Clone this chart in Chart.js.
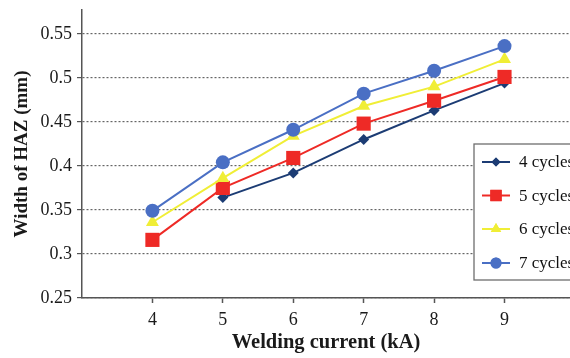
<!DOCTYPE html>
<html>
<head>
<meta charset="utf-8">
<script src="https://cdn.jsdelivr.net/npm/chart.js@4/dist/chart.umd.min.js"></script>
<style>
  html, body { margin: 0; padding: 0; background: #fff; overflow: hidden; }
  #wrap { width: 580px; height: 358px; }
</style>
</head>
<body>
<div id="wrap"><canvas id="hazChart" width="580" height="358"></canvas></div>
<script>
// Width of HAZ vs welding current, one series per number of cycles
const currents   = [4, 5, 6, 7, 8, 9];
const cycles4    = [null, 0.364, 0.392, 0.430, 0.463, 0.494];
const cycles5    = [0.316, 0.375, 0.409, 0.448, 0.474, 0.501];
const cycles6    = [0.336, 0.386, 0.434, 0.468, 0.490, 0.521];
const cycles7    = [0.349, 0.404, 0.441, 0.482, 0.508, 0.536];
const seriesNames = ['4 cycles', '5 cycles', '6 cycles', '7 cycles'];
const yTicks     = [0.25, 0.3, 0.35, 0.4, 0.45, 0.5, 0.55];

const SERIF = '"Liberation Serif", "Times New Roman", serif';

function pts(vals) {
  return currents.map((x, i) => ({ x, y: vals[i] }));
}

function series(label, vals, color, style, radius, order) {
  return {
    label,
    data: pts(vals),
    borderColor: color,
    backgroundColor: color,
    borderWidth: 2,
    pointStyle: style,
    pointRadius: radius,
    pointHoverRadius: radius,
    pointBorderWidth: 0,
    tension: 0,
    order
  };
}

// Legend box drawn inside the plot, at the right edge
const boxLegend = {
  id: 'boxLegend',
  afterDraw(chart) {
    const ctx = chart.ctx;
    const left = 474, top = 144, bottom = 280, right = 620;
    ctx.save();
    ctx.fillStyle = '#fff';
    ctx.fillRect(left, top, right - left, bottom - top);
    ctx.strokeStyle = '#6e6e6e';
    ctx.lineWidth = 1.3;
    ctx.strokeRect(left, top, right - left, bottom - top);

    const rows = [162, 195.5, 229, 263];
    const sizes = [4.5, 8, 6, 5.5];
    chart.data.datasets.forEach((ds, i) => {
      const y = rows[i];
      ctx.strokeStyle = ds.borderColor;
      ctx.lineWidth = 2;
      ctx.beginPath();
      ctx.moveTo(482, y);
      ctx.lineTo(510, y);
      ctx.stroke();
      ctx.fillStyle = ds.backgroundColor;
      Chart.helpers.drawPoint(ctx, { pointStyle: ds.pointStyle, radius: sizes[i], borderWidth: 0 }, 496, y);
      ctx.fill();
      ctx.fillStyle = '#111';
      ctx.font = '17px ' + SERIF;
      ctx.textBaseline = 'middle';
      ctx.fillText(ds.label, 519, y + 1);
    });
    ctx.restore();
  }
};

new Chart(document.getElementById('hazChart'), {
  type: 'line',
  data: {
    datasets: [
      series(seriesNames[0], cycles4, '#1c3c74', 'rectRot', 5.5, 3),
      series(seriesNames[1], cycles5, '#ee2a26', 'rect', 10, 2),
      series(seriesNames[2], cycles6, '#f0ee36', 'triangle', 7.5, 1),
      series(seriesNames[3], cycles7, '#4a6fc4', 'circle', 7, 0)
    ]
  },
  options: {
    responsive: false,
    animation: false,
    layout: { padding: { top: 8, right: 4, left: 0, bottom: 0 } },
    plugins: {
      legend: { display: false },
      tooltip: { enabled: false }
    },
    scales: {
      x: {
        type: 'linear',
        min: 3,
        max: 9.93,
        afterBuildTicks: s => { s.ticks = currents.map(v => ({ value: v })); },
        afterFit: s => { s.height = 60; s.paddingLeft = 0; s.paddingRight = 0; },
        border: { display: true, color: '#555', width: 1.5 },
        grid: { drawOnChartArea: false, drawTicks: true, tickLength: 5, tickColor: '#555', tickWidth: 1.5 },
        ticks: { color: '#1a1a1a', padding: 6, font: { family: SERIF, size: 18 } },
        title: {
          display: true,
          text: 'Welding current (kA)',
          color: '#1a1a1a',
          padding: { top: 0, bottom: 3 },
          font: { family: SERIF, size: 20.5, weight: 'bold' }
        }
      },
      y: {
        min: 0.25,
        max: 0.577,
        afterBuildTicks: s => { s.ticks = yTicks.map(v => ({ value: v })); },
        afterFit: s => { s.width = 82; s.paddingTop = 0; s.paddingBottom = 0; },
        border: { display: true, color: '#555', width: 1.5, dash: [2, 2] },
        grid: { color: '#666', lineWidth: 1.2, drawTicks: true, tickLength: 5, tickColor: '#555', tickBorderDash: [] },
        ticks: {
          color: '#1a1a1a',
          padding: 5,
          font: { family: SERIF, size: 18 },
          callback: v => String(v)
        },
        title: {
          display: true,
          text: 'Width of HAZ (mm)',
          color: '#1a1a1a',
          padding: { top: 11, bottom: 0 },
          font: { family: SERIF, size: 19, weight: 'bold' }
        }
      }
    }
  },
  plugins: [boxLegend]
});
</script>
</body>
</html>
